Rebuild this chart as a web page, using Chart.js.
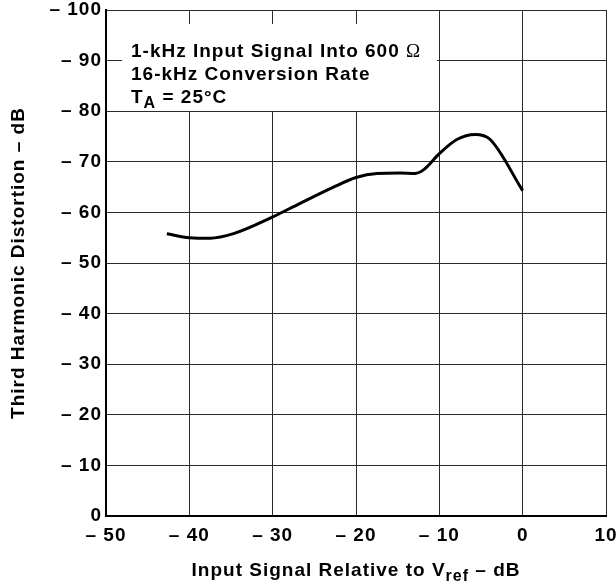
<!DOCTYPE html>
<html>
<head>
<meta charset="utf-8">
<script src="https://cdn.jsdelivr.net/npm/chart.js@4/dist/chart.umd.min.js"></script>
<style>
  html, body { margin: 0; padding: 0; background: #fff; }
  #wrap { width: 616px; height: 585px; }
</style>
</head>
<body>
<div id="wrap"><canvas id="thd-chart"></canvas></div>
<script>
// Axes
const xTicks = [-50, -40, -30, -20, -10, 0, 10];
const yTicks = [0, 10, 20, 30, 40, 50, 60, 70, 80, 90, 100];

// Curve (input dB, distortion magnitude dB)
const inputDb = [-42.7, -40, -37.5, -34.7, -30, -26.7, -22.7, -20, -17.5, -14.7, -12.9, -11.9, -10, -7.9, -5.7, -3.9, 0];
const thdDb   = [55.8, 55.0, 54.9, 55.8, 59.1, 61.8, 65.0, 66.9, 67.7, 67.8, 67.7, 68.4, 71.6, 74.4, 75.4, 74.4, 64.3];

const FONT = '"Liberation Sans", Arial, Helvetica, sans-serif';
const BOLD = 'bold 19px ' + FONT;
const SUB = 'bold 16px ' + FONT;
const SPACING = '1px';

// Espacement des lettres (Helvetica large de l'original)
const tracking = {
    id: 'tracking',
    beforeUpdate(chart) { chart.ctx.letterSpacing = SPACING; },
    beforeDraw(chart) { chart.ctx.letterSpacing = SPACING; }
};

// Encadré de conditions + titre X avec indice
const annotations = {
    id: 'annotations',
    beforeDatasetsDraw(chart) {
        const ctx = chart.ctx;
        ctx.save();
        ctx.letterSpacing = SPACING;
        ctx.fillStyle = '#fff';
        ctx.fillRect(122, 24, 315, 87);
        ctx.fillStyle = '#000';
        ctx.textBaseline = 'alphabetic';
        ctx.textAlign = 'left';
        const x = 131;
        const l1 = '1-kHz Input Signal Into 600 ';
        ctx.font = BOLD;
        ctx.fillText(l1, x, 57);
        const w1 = ctx.measureText(l1).width;
        ctx.font = '19px "Liberation Serif", serif';
        ctx.fillText('\u03A9', x + w1, 57);
        ctx.font = BOLD;
        ctx.fillText('16-kHz Conversion Rate', x, 80);
        ctx.fillText('T', x, 103);
        const wT = ctx.measureText('T').width;
        ctx.font = SUB;
        ctx.fillText('A', x + wT, 108);
        const wA = ctx.measureText('A').width;
        ctx.font = BOLD;
        ctx.fillText(' = 25\u00B0C', x + wT + wA, 103);
        ctx.restore();
    },
    afterDraw(chart) {
        const ctx = chart.ctx;
        const area = chart.chartArea;
        ctx.save();
        ctx.letterSpacing = SPACING;
        ctx.fillStyle = '#000';
        ctx.textBaseline = 'alphabetic';
        ctx.textAlign = 'left';
        const a = 'Input Signal Relative to V', b = 'ref', c = ' \u2013 dB';
        ctx.font = BOLD;
        const wa = ctx.measureText(a).width, wc = ctx.measureText(c).width;
        ctx.font = SUB;
        const wb = ctx.measureText(b).width;
        const x0 = (area.left + area.right) / 2 - (wa + wb + wc) / 2;
        const y = 576;
        ctx.font = BOLD;
        ctx.fillText(a, x0, y);
        ctx.font = SUB;
        ctx.fillText(b, x0 + wa, y + 5);
        ctx.font = BOLD;
        ctx.fillText(c, x0 + wa + wb, y);
        ctx.restore();
    }
};

new Chart(document.getElementById('thd-chart'), {
    type: 'scatter',
    data: {
        datasets: [{
            data: inputDb.map((x, i) => ({ x: x, y: thdDb[i] })),
            showLine: true,
            borderColor: '#000',
            borderWidth: 3,
            pointRadius: 0,
            cubicInterpolationMode: 'monotone'
        }]
    },
    options: {
        responsive: true,
        maintainAspectRatio: false,
        animation: false,
        events: [],
        layout: { padding: { top: 10, right: 10, left: 0, bottom: 0 } },
        plugins: { legend: { display: false }, tooltip: { enabled: false } },
        scales: {
            x: {
                type: 'linear',
                min: -50, max: 10,
                afterBuildTicks: s => { s.ticks = xTicks.map(v => ({ value: v })); },
                afterFit: s => { s.height = 69; s.paddingLeft = 0; s.paddingRight = 0; },
                grid: { color: '#2a2a2a', lineWidth: 1, drawTicks: false },
                border: { color: '#000', width: 2 },
                ticks: {
                    padding: 8,
                    color: '#000',
                    maxRotation: 0,
                    font: { family: FONT, size: 19, weight: 'bold' },
                    callback: v => v < 0 ? '\u2013 ' + (-v) : String(v)
                }
            },
            y: {
                min: 0, max: 100,
                afterBuildTicks: s => { s.ticks = yTicks.map(v => ({ value: v })); },
                afterFit: s => { s.width = 106; s.paddingTop = 0; s.paddingBottom = 0; },
                grid: { color: '#2a2a2a', lineWidth: 1, drawTicks: false },
                border: { color: '#000', width: 2 },
                ticks: {
                    padding: 4,
                    color: '#000',
                    font: { family: FONT, size: 19, weight: 'bold' },
                    callback: v => v === 0 ? '0' : '\u2013 ' + v
                },
                title: {
                    display: true,
                    text: 'Third Harmonic Distortion \u2013 dB',
                    color: '#000',
                    padding: { top: 7, bottom: 0 },
                    font: { family: FONT, size: 19, weight: 'bold' }
                }
            }
        }
    },
    plugins: [tracking, annotations]
});
</script>
</body>
</html>
